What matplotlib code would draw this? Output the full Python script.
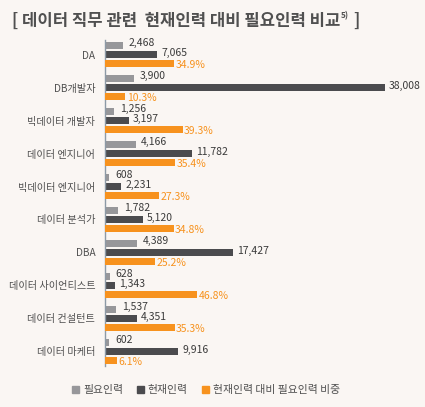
import numpy as np
import matplotlib
matplotlib.use('Agg')
import matplotlib.pyplot as plt
from matplotlib.patches import Patch

plt.rcParams['font.family'] = ['Noto Sans CJK KR', 'DejaVu Sans']

categories = ['DA', 'DB개발자', '빅데이터 개발자', '데이터 엔지니어', '빅데이터 엔지니어',
              '데이터 분석가', 'DBA', '데이터 사이언티스트', '데이터 컨설턴트', '데이터 마케터']
required = [2468, 3900, 1256, 4166, 608, 1782, 4389, 628, 1537, 602]
current = [7065, 38008, 3197, 11782, 2231, 5120, 17427, 1343, 4351, 9916]
ratio = [34.9, 10.3, 39.3, 35.4, 27.3, 34.8, 25.2, 46.8, 35.3, 6.1]
legend_labels = ['필요인력', '현재인력', '현재인력 대비 필요인력 비중']

bg = '#faf6f3'
c_req = '#97979a'
c_cur = '#4b4b4e'
c_pct = '#f7921e'
c_txt = '#505050'

W, H = 425, 407
fig = plt.figure(figsize=(W / 100, H / 100), dpi=100, facecolor=bg)

# axes placed in pixel terms
left, right, top, bottom = 105, 395, 40, 366
ax = fig.add_axes([left / W, 1 - bottom / H, (right - left) / W, (bottom - top) / H])
ax.set_facecolor('none')
ax2 = ax.twiny()
ax2.set_facecolor('none')

n = len(categories)
y = np.arange(n)
off = 0.27
bh = 0.22

ax.barh(y - off, required, height=bh, color=c_req)
ax.barh(y, current, height=bh, color=c_cur)
ax2.barh(y + off, ratio, height=bh, color=c_pct)

ax.set_xlim(0, 38008 * 290 / 280)
ax2.set_xlim(0, 147)
ax.set_ylim(n - 0.56, -0.44)
ax2.set_ylim(n - 0.56, -0.44)

for i in range(n):
    ax.annotate(f'{required[i]:,}', (required[i], y[i] - off), xytext=(4, 2),
                textcoords='offset points', va='center', ha='left',
                fontsize=7.5, color='#3a3a3a')
    ax.annotate(f'{current[i]:,}', (current[i], y[i]), xytext=(3, 1),
                textcoords='offset points', va='center', ha='left',
                fontsize=7.5, color='#3a3a3a')
    ax2.annotate(f'{ratio[i]}%', (ratio[i], y[i] + off), xytext=(1, -1),
                 textcoords='offset points', va='center', ha='left',
                 fontsize=7.5, color=c_pct)

ax.set_yticks(y)
ax.set_yticklabels(categories, fontsize=7.3, color=c_txt)
ax.tick_params(axis='y', length=0, pad=7)
ax.set_xticks([])
ax2.set_xticks([])
for a in (ax, ax2):
    for s in ['top', 'right', 'bottom']:
        a.spines[s].set_visible(False)
ax.spines['left'].set_color('#8d9aa6')
ax.spines['left'].set_linewidth(1)
ax2.spines['left'].set_visible(False)

# title with superscript note
fig.canvas.draw()
r = fig.canvas.get_renderer()
t1 = fig.text(12 / W, 1 - 21 / H, '[ 데이터 직무 관련  현재인력 대비 필요인력 비교',
              fontsize=12, fontweight='bold', color=c_txt, va='center', ha='left')
bb = t1.get_window_extent(r)
t2 = fig.text(bb.x1 / W + 0.002, 1 - 16 / H, '5)', fontsize=6, color=c_txt,
              va='center', ha='left', fontweight='bold')
bb2 = t2.get_window_extent(r)
fig.text(bb2.x1 / W + 0.008, 1 - 21 / H, ']', fontsize=12, fontweight='bold',
         color=c_txt, va='center', ha='left')

handles = [Patch(color=c_req), Patch(color=c_cur), Patch(color=c_pct)]
leg = fig.legend(handles, legend_labels, loc='center', bbox_to_anchor=(0.485, 1 - 390 / H),
                 ncol=3, frameon=False, handlelength=0.6, handleheight=0.6,
                 handletextpad=0.4, columnspacing=1.3, fontsize=7.8)
for t in leg.get_texts():
    t.set_color(c_txt)

fig.savefig('out.png', dpi=100, facecolor=bg)
